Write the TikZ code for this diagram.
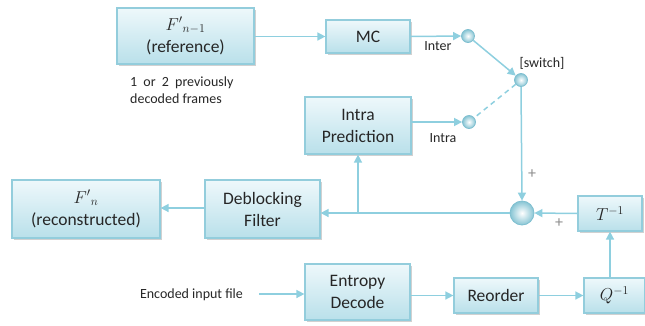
\documentclass[tikz,border=0pt]{standalone}
\usepackage{fontspec}
\setmainfont{Carlito}
\usetikzlibrary{arrows.meta,shadows}
\definecolor{lineblue}{HTML}{8ECFDF}
\definecolor{boxborder}{HTML}{93CDDC}
\definecolor{boxtop}{HTML}{EEF8FB}
\definecolor{boxbot}{HTML}{B9E0EA}
\definecolor{txt}{HTML}{262626}
\definecolor{plusgray}{HTML}{8C8C8C}
\definecolor{dotborder}{HTML}{7FBFD0}
\tikzset{
  blk/.style={draw=boxborder, line width=1.2pt, top color=boxtop, bottom color=boxbot,
    align=center, inner sep=2pt, font=\fontsize{17.5}{22}\selectfont, text=txt,
    drop shadow={shadow xshift=2pt, shadow yshift=-2pt, fill=black!30, opacity=0.6}},
  dot/.style={circle, draw=dotborder, line width=0.8pt, inner color=white, outer color=lineblue!95!black,
    inner sep=0pt, minimum size=13pt},
  conn/.style={draw=lineblue, line width=1.5pt},
  arr/.style={conn, -{Triangle[length=8pt,width=8pt]}},
  lbl/.style={font=\fontsize{14}{17}\selectfont, text=txt, inner sep=0pt},
}
\begin{document}
\begin{tikzpicture}[x=1pt,y=-1pt]
\useasboundingbox (0,0) rectangle (645,325);
\node[blk, minimum width=137pt, minimum height=56pt] (ref) at (185.5,36) {$F'{}_{n-1}$\\(reference)};
\node[blk, minimum width=84pt, minimum height=33pt] (mc) at (368,36.5) {MC};
\node[blk, minimum width=106pt, minimum height=57pt] (intra) at (358,125.5) {Intra\\Prediction};
\node[blk, minimum width=148pt, minimum height=58pt] (recon) at (86,209) {$F'{}_{n}$\\(reconstructed)};
\node[blk, minimum width=115pt, minimum height=58pt] (deblock) at (262.5,209) {Deblocking\\Filter};
\node[blk, minimum width=64pt, minimum height=35pt] (tinv) at (610,213.5) {$T^{-1}$};
\node[blk, minimum width=105pt, minimum height=56pt] (entropy) at (357.5,292) {Entropy\\Decode};
\node[blk, minimum width=84pt, minimum height=35pt] (reorder) at (496,295.5) {Reorder};
\node[blk, minimum width=61pt, minimum height=35pt] (qinv) at (614.5,295.5) {$Q^{-1}$};
\node[dot, minimum size=24pt] (sum) at (522,213) {};
\node[dot] (inter) at (468,36) {};
\node[dot] (intrac) at (469,122) {};
\node[dot] (sw) at (521,80) {};
\node[lbl] (interl) at (438,46) {Inter};
\node[lbl] (intral) at (443,138) {Intra};
\node[lbl] (swl) at (542,63) {[switch]};
\node[lbl, text=plusgray, font=\fontsize{16}{16}\selectfont] (p1) at (532,174) {+};
\node[lbl, text=plusgray, font=\fontsize{16}{16}\selectfont] (p2) at (559,223) {+};
\node[lbl, align=left, anchor=west] (note) at (130,90.5) {1\hspace{3pt} or\hspace{3pt} 2\hspace{3pt} previously\\decoded frames};
\node[lbl] (enc) at (191.5,295) {Encoded input file};
\coordinate (encend) at (259,294);
\coordinate (br) at (358,213);
% connectors
\draw[arr] (ref.east |- mc.west) -- (mc.west);
\draw[arr] (mc.east) -- (inter.west);
\draw[arr] (inter) -- (sw);
\draw[conn, dashed, dash pattern=on 5pt off 4pt] (sw) -- (intrac);
\draw[arr] (intra.east |- intrac.west) -- (intrac.west);
\draw[arr] (sw.south) -- (sum.north);
\draw[arr] (tinv.west) -- (sum.east);
\draw[arr] (sum.west) -- (deblock.east |- sum.west);
\draw[arr] (br) -- (intra.south);
\draw[arr] ([yshift=1pt]deblock.west) -- ([yshift=1pt]recon.east);
\draw[arr] (encend) -- (entropy.west |- encend);
\draw[arr] (entropy.east |- reorder.west) -- (reorder.west);
\draw[arr] (reorder.east) -- (qinv.west);
\draw[arr] (qinv.north -| tinv.south) -- (tinv.south);
\end{tikzpicture}
\end{document}
